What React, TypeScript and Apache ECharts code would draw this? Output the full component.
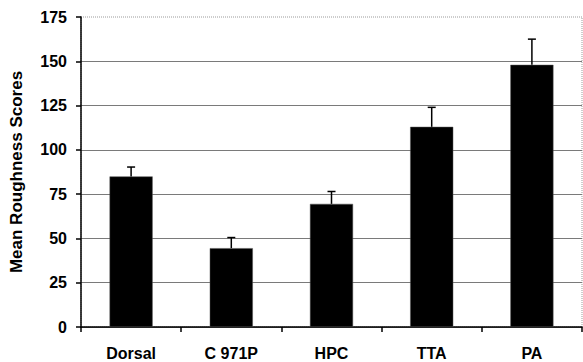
import React, { useEffect, useRef } from "react";
import * as echarts from "echarts";

const categories = ["Dorsal", "C 971P", "HPC", "TTA", "PA"];
const meanScores = [85, 44.5, 69.5, 113, 148];
const errorUpper = [5.3, 6, 7, 11, 14.5];
const yTicks = { min: 0, max: 175, interval: 25 };

export default function App() {
  const ref = useRef<HTMLDivElement>(null);
  useEffect(() => {
    if (!ref.current) return;
    const chart = echarts.init(ref.current, null, { renderer: "svg" });
    const font = "Liberation Sans";
    chart.setOption({
      animation: false,
      backgroundColor: "#ffffff",
      grid: {
        left: 78,
        right: 1,
        top: 17,
        bottom: 35,
        show: true,
        borderColor: "#9a9a9a",
        borderWidth: 1,
        borderType: "dotted",
      },
      xAxis: {
        type: "category",
        data: categories,
        axisLine: { lineStyle: { color: "#000", width: 1.5 } },
        axisTick: { show: true, length: 5, lineStyle: { color: "#000", width: 1.5 } },
        axisLabel: {
          color: "#000",
          fontWeight: "bold",
          fontSize: 16,
          fontFamily: font,
          margin: 18,
        },
      },
      yAxis: {
        type: "value",
        min: yTicks.min,
        max: yTicks.max,
        interval: yTicks.interval,
        name: "Mean Roughness Scores",
        nameLocation: "middle",
        nameGap: 56,
        nameTextStyle: {
          color: "#000",
          fontWeight: "bold",
          fontSize: 17,
          fontFamily: font,
        },
        axisLine: { show: true, lineStyle: { color: "#000", width: 1.5 } },
        axisTick: { show: true, length: 5, lineStyle: { color: "#000", width: 1.5 } },
        axisLabel: {
          color: "#000",
          fontWeight: "bold",
          fontSize: 16,
          fontFamily: font,
          margin: 14,
        },
        splitLine: {
          show: true,
          showMaxLine: false,
          lineStyle: { color: "#7a7a7a", width: 1 },
        },
      },
      series: [
        {
          type: "bar",
          data: meanScores,
          barWidth: "43%",
          itemStyle: { color: "#000", borderColor: "#555", borderWidth: 0.5 },
          z: 2,
        },
        {
          type: "custom",
          z: 3,
          data: meanScores.map((v, i) => [i, v, v + errorUpper[i]]),
          renderItem: (params: any, api: any) => {
            const i = api.value(0);
            const lo = api.coord([i, api.value(1)]);
            const hi = api.coord([i, api.value(2)]);
            const half = 4;
            const style = { stroke: "#000", lineWidth: 1.5 };
            return {
              type: "group",
              children: [
                { type: "line", shape: { x1: lo[0], y1: lo[1], x2: hi[0], y2: hi[1] }, style },
                { type: "line", shape: { x1: hi[0] - half, y1: hi[1], x2: hi[0] + half, y2: hi[1] }, style },
              ],
            };
          },
        },
      ],
    });
    return () => chart.dispose();
  }, []);
  return (
    <div
      ref={ref}
      style={{ position: "fixed", left: 0, top: 0, width: 583, height: 362 }}
    />
  );
}
